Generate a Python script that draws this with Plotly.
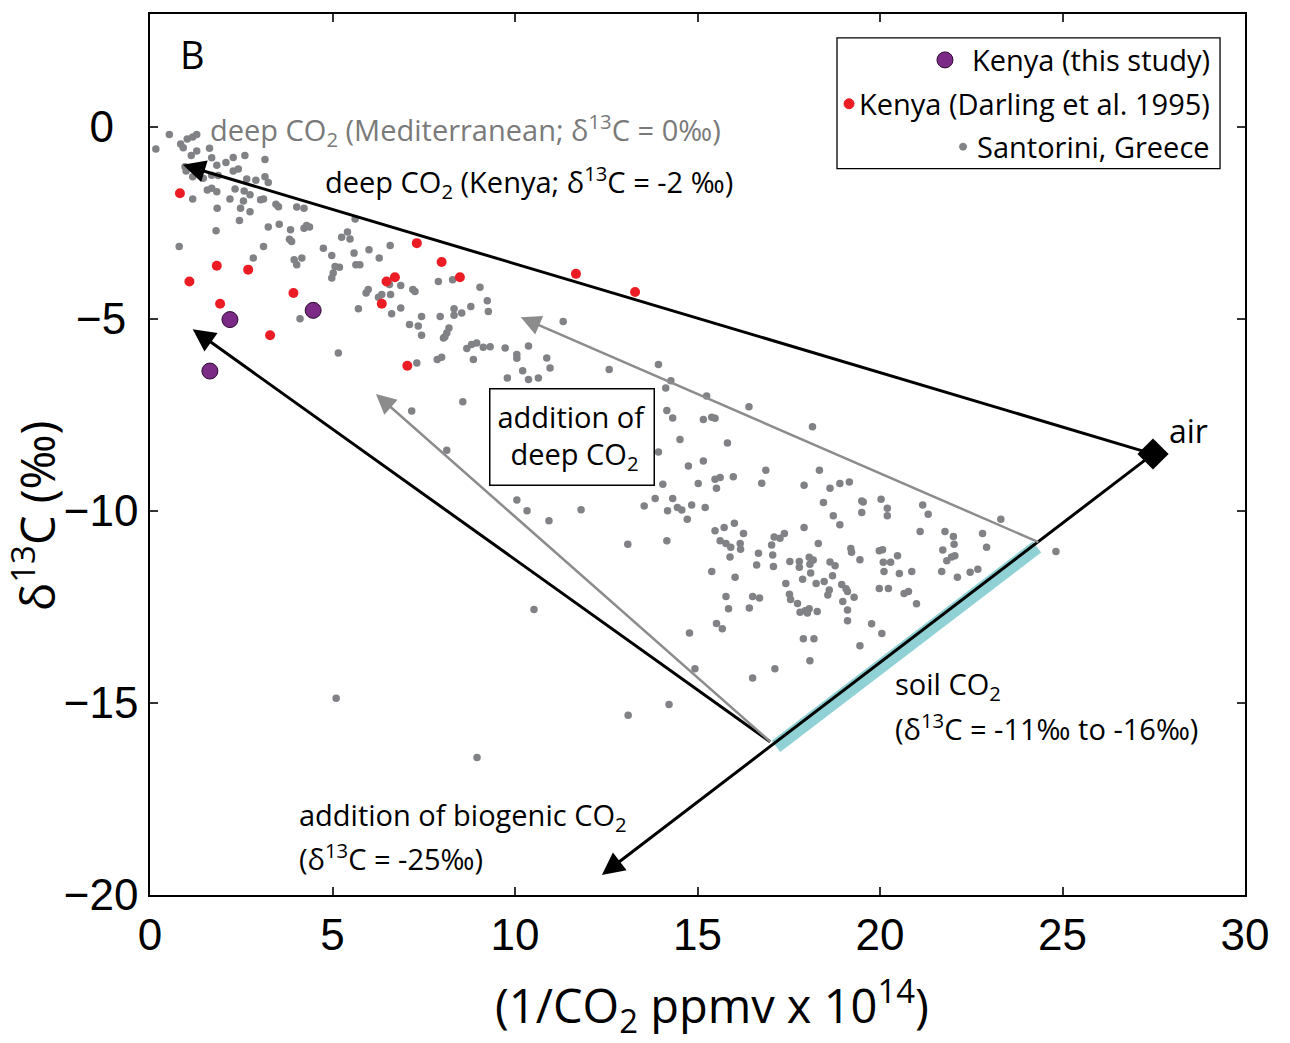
import plotly.graph_objects as go

# ---------------- data ----------------
santorini_x = [
    0.53, 0.16, 0.84, 0.91, 1.02, 1.17, 1.28, 1.13, 1.28, 1.63, 1.69, 1.83, 2.08, 2.28, 2.60, 3.15,
    0.96, 0.99, 1.17, 1.46, 1.69, 1.87, 1.69, 1.83, 1.57, 2.28, 2.42, 2.65, 2.90, 3.15, 3.24, 2.33,
    2.58, 2.74, 2.19, 2.56, 2.48, 2.74, 3.11, 3.03, 3.45, 3.52, 4.02, 4.22, 2.45, 3.24, 3.54, 3.85,
    4.22, 4.29, 4.37, 1.17, 1.84, 1.81, 0.80, 3.11, 3.82, 3.88, 2.83, 3.95, 4.02, 4.16, 4.75, 4.98,
    5.25, 5.41, 5.48, 5.59, 5.64, 5.75, 6.00, 6.28, 6.58, 5.07, 5.02, 4.98, 5.19, 5.62, 5.92, 5.98,
    6.26, 6.35, 6.56, 6.59, 6.87, 7.20, 7.26, 7.90, 8.29, 9.04, 9.24, 9.27, 8.79, 8.33, 8.54, 8.33,
    7.95, 7.44, 7.11, 7.35, 7.44, 8.04, 8.13, 8.19, 8.08, 6.62, 6.87, 5.71, 4.11, 5.16, 8.68, 8.81,
    8.95, 9.13, 9.32, 9.73, 10.05, 10.05, 10.37, 10.87, 7.87, 7.99, 7.31, 8.86, 10.21, 10.37, 9.79, 10.64,
    10.96, 8.57, 7.17,
    11.32, 12.58, 13.93, 14.13, 14.27, 15.25, 8.13, 10.05,
    10.33, 10.93, 11.81, 10.52, 5.10, 8.96,
    16.41, 14.16, 14.32, 15.16, 15.39, 15.48, 18.15, 14.52, 15.82, 13.93, 15.16, 14.75, 16.87, 18.34,
    15.48, 15.62, 15.98, 14.05, 15.02, 15.52, 16.76, 17.92, 18.63, 18.90, 19.16, 13.84, 14.32, 13.54,
    14.18, 14.45, 14.57, 14.84, 15.21, 14.72, 18.45, 18.72, 18.90, 19.50, 19.54, 19.50, 20.03, 20.20,
    20.20, 21.17, 21.32, 23.31, 21.10, 21.78, 22.01, 22.03, 22.81, 22.92, 13.09, 14.16, 15.48, 15.73,
    16.01, 16.26, 15.62, 15.78, 15.91, 16.17, 16.18, 15.89, 16.67, 16.62, 15.39, 16.03, 17.10, 17.26,
    17.38, 17.03, 17.06, 17.08, 17.53, 17.79, 17.79, 17.92, 18.06, 18.08, 18.17, 18.10, 18.31, 17.88,
    17.42, 18.25, 18.47, 18.63, 18.77, 18.70, 18.95, 19.07, 19.11, 18.61, 18.57, 18.98, 19.29, 19.11,
    19.11, 19.20, 19.22, 19.45, 19.98, 20.07, 20.09, 20.29, 20.48, 20.11, 20.53, 20.87, 19.98, 20.23,
    20.66, 20.78, 21.00, 21.72, 21.83, 21.96, 22.05, 21.69, 22.12, 22.47, 22.68, 15.78, 15.85, 16.42,
    16.51, 16.70, 17.52, 17.55, 17.74, 17.81, 17.95, 18.06, 18.01, 18.28, 15.52, 15.68, 14.78, 17.90,
    18.19, 19.77, 20.05, 19.45, 18.08, 14.93, 17.12, 16.51,
    24.82, 13.10, 14.22,
]
santorini_y = [
    -0.20, -0.58, -0.45, -0.55, -0.32, -0.27, -0.20, -0.75, -0.63, -0.56, -0.81, -1.00, -0.93, -0.80, -0.75, -0.85,
    -1.04, -1.15, -1.30, -1.34, -1.26, -1.27, -1.60, -1.69, -1.65, -1.15, -1.10, -1.36, -1.39, -1.30, -1.45, -1.62,
    -1.67, -1.77, -1.88, -1.93, -2.12, -2.21, -1.88, -1.90, -2.02, -2.08, -2.09, -2.12, -2.44, -2.61, -2.54, -2.68,
    -2.64, -2.57, -2.61, -1.88, -2.12, -2.71, -3.12, -3.12, -2.93, -2.99, -3.42, -3.46, -3.59, -3.42, -3.16, -3.35,
    -2.88, -2.74, -2.92, -3.29, -3.59, -3.59, -3.20, -3.42, -3.09, -3.64, -3.81, -3.94, -3.66, -2.40, -4.33, -4.24,
    -4.44, -4.37, -4.11, -4.37, -4.13, -4.24, -4.29, -4.03, -3.98, -4.18, -4.53, -4.81, -4.68, -4.74, -4.85, -4.91,
    -4.94, -4.94, -5.15, -5.19, -5.43, -5.50, -5.37, -5.24, -5.47, -4.87, -4.72, -4.74, -5.00, -5.89, -5.77, -5.67,
    -5.63, -5.74, -5.73, -5.76, -5.93, -6.03, -5.71, -6.02, -6.06, -6.00, -6.15, -6.06, -6.35, -6.58, -6.54, -6.54,
    -6.28, -7.16, -7.40,
    -5.07, -6.32, -6.19, -6.80, -6.61, -7.01, -8.42, -9.72,
    -10.00, -10.26, -9.97, -12.57, -14.88, -16.42,
    -7.29, -7.39, -7.58, -7.62, -7.56, -7.59, -7.81, -8.14, -8.23, -8.47, -8.70, -8.83, -8.94, -8.94,
    -9.18, -9.13, -9.11, -9.31, -9.29, -9.41, -9.28, -9.33, -9.41, -9.29, -9.25, -9.68, -9.68, -9.87,
    -10.00, -9.91, -9.98, -9.85, -9.91, -10.22, -9.78, -10.13, -10.36, -9.74, -9.77, -10.04, -9.70, -9.93,
    -10.13, -9.85, -10.09, -10.22, -10.54, -10.54, -10.67, -10.87, -10.59, -10.95, -10.87, -10.78, -10.52, -10.43,
    -10.32, -10.59, -10.78, -10.85, -10.95, -10.85, -11.00, -11.20, -11.10, -11.41, -11.58, -11.73, -10.68, -10.71,
    -10.59, -10.89, -11.15, -11.45, -11.32, -11.32, -11.47, -10.43, -11.21, -11.39, -11.28, -11.62, -10.85, -11.78,
    -11.89, -11.89, -11.84, -11.33, -11.43, -11.69, -11.92, -12.03, -12.10, -12.06, -12.19, -12.36, -12.25, -12.58,
    -12.86, -10.98, -11.08, -11.27, -11.04, -11.01, -11.34, -11.34, -11.17, -11.58, -11.63, -11.58, -12.02, -12.02,
    -12.15, -12.10, -12.42, -11.02, -11.30, -11.20, -11.17, -11.58, -11.73, -11.60, -11.52, -12.23, -12.55, -12.53,
    -12.23, -12.27, -12.17, -12.31, -12.41, -12.64, -12.60, -12.55, -12.66, -12.62, -12.93, -13.07, -13.18, -13.33,
    -13.33, -12.94, -13.19, -13.51, -13.90, -14.11, -14.11, -14.35,
    -11.06, -15.32, -15.04,
]

darling_x = [0.82, 1.08, 1.83, 1.92, 2.69, 3.29, 3.93, 6.48, 6.71, 6.35, 7.31, 7.99, 8.49, 7.05, 11.67, 13.29]
darling_y = [-1.73, -4.03, -3.62, -4.61, -3.72, -5.43, -4.33, -4.03, -3.92, -4.61, -3.03, -3.52, -3.92, -6.22, -3.83, -4.30]

kenya_x = [2.19, 4.47, 1.64]
kenya_y = [-5.02, -4.78, -6.36]

# end-members / mixing-line geometry (data units)
air_x, air_y = [27.48], [-8.52]
soil_low = (17.03, -16.04)
soil_high = (24.38, -10.83)
deep_kenya_tip = (0.90, -0.99)
biogenic_tip = (12.38, -19.48)
deep_from_soil_tip = (1.17, -5.27)
grey_tip_low = (6.19, -6.96)
grey_tip_high = (10.16, -4.96)
soil_band_x = [17.15, 24.30]
soil_band_y = [-16.13, -10.94]

x_ticks = [0, 5, 10, 15, 20, 25, 30]
y_ticks = [-20, -15, -10, -5, 0]
# labels are centred in the reference; pad the short ones with figure / punctuation spaces
y_ticktext = ["\u221220", "\u221215", "\u221210", "\u22125\u2008", "0\u2007"]

GREY = "#808285"
RED = "#ec1c24"
PURPLE = "#7b2a86"
CYAN = "#8fd1d5"
ARROW_GREY = "#8c8c8c"
TXT = "Open Sans"
NUM = "Liberation Sans"
FS = 29

fig = go.Figure()

fig.add_trace(go.Scatter(x=soil_band_x, y=soil_band_y, mode="lines",
                         line=dict(color=CYAN, width=14), hoverinfo="skip"))
fig.add_trace(go.Scatter(x=santorini_x, y=santorini_y, mode="markers", name="Santorini, Greece",
                         marker=dict(color=GREY, size=7.5)))
fig.add_trace(go.Scatter(x=darling_x, y=darling_y, mode="markers", name="Kenya (Darling et al. 1995)",
                         marker=dict(color=RED, size=10)))
fig.add_trace(go.Scatter(x=kenya_x, y=kenya_y, mode="markers", name="Kenya (this study)",
                         marker=dict(color=PURPLE, size=16, line=dict(color="#2a0a2e", width=1))))
fig.add_trace(go.Scatter(x=air_x, y=air_y, mode="markers", name="air",
                         marker=dict(color="black", symbol="diamond", size=24)))


def arrow(tip, tail, color, width, size):
    return dict(x=tip[0], y=tip[1], ax=tail[0], ay=tail[1], xref="x", yref="y",
                axref="x", ayref="y", showarrow=True, arrowhead=2, arrowsize=size,
                arrowwidth=width, arrowcolor=color, text="", standoff=0, startstandoff=0)


annotations = [
    arrow(deep_kenya_tip, (air_x[0], air_y[0]), "black", 3, 1.5),
    arrow(biogenic_tip, (air_x[0], air_y[0]), "black", 3, 1.5),
    arrow(deep_from_soil_tip, soil_low, "black", 3, 1.5),
    arrow(grey_tip_low, soil_low, ARROW_GREY, 2.5, 1.6),
    arrow(grey_tip_high, soil_high, ARROW_GREY, 2.5, 1.6),
]


def label(x, y, text, color="black", size=FS, xanchor="left", family=TXT, **kw):
    d = dict(x=x, y=y, xref="x", yref="y", text=text, showarrow=False, xanchor=xanchor,
             yanchor="middle", font=dict(family=family, size=size, color=color))
    d.update(kw)
    return d


annotations += [
    label(1.59, -0.08, "deep CO<sub>2</sub> (Mediterranean; δ<sup>13</sup>C = 0‰)", color="#7a7a7a"),
    label(4.74, -1.45, "deep CO<sub>2</sub> (Kenya; δ<sup>13</sup>C = -2 ‰)"),
    label(11.56, -8.08, "addition of<br> deep CO<sub>2</sub>", xanchor="center", align="center",
          bordercolor="black", borderwidth=1.5, borderpad=7, bgcolor="white"),
    label(27.86, -7.92, "air", size=32),
    label(20.36, -14.55, "soil CO<sub>2</sub>"),
    label(20.36, -15.62, "(δ<sup>13</sup>C = -11‰ to -16‰)"),
    label(4.03, -17.95, "addition of biogenic CO<sub>2</sub>"),
    label(4.03, -19.0, "(δ<sup>13</sup>C = -25‰)"),
    dict(x=0.0256, y=0.955, xref="paper", yref="paper", text="B", showarrow=False,
         xanchor="left", yanchor="middle", font=dict(family=TXT, size=38, color="black")),
    # axis titles
    dict(x=0.5132, y=-0.125, xref="paper", yref="paper", showarrow=False,
         text="(1/CO<sub>2</sub> ppmv x 10<sup>14</sup>)", xanchor="center", yanchor="middle",
         font=dict(family=TXT, size=47, color="black")),
    dict(x=-0.105, y=0.4303, xref="paper", yref="paper", showarrow=False, textangle=-90,
         text="δ<sup>13</sup>C (‰)", xanchor="center", yanchor="middle",
         font=dict(family=TXT, size=47, color="black")),
]

# manual legend (right-aligned text as in the reference)
legend_names = ["Kenya (this study)", "Kenya (Darling et al. 1995)", "Santorini, Greece"]
legend_y = [0.9479, 0.8981, 0.8494]
legend_marker_x = [0.7260, 0.6384, 0.7425]
legend_marker_px = [8, 5, 3.5]
legend_colors = [PURPLE, RED, GREY]

shapes = [dict(type="rect", xref="paper", yref="paper", x0=0.6274, x1=0.9772, y0=0.8245, y1=0.9728,
               line=dict(color="black", width=1.3), fillcolor="white", layer="above")]
for name, ly, mx, r, c in zip(legend_names, legend_y, legend_marker_x, legend_marker_px, legend_colors):
    annotations.append(dict(x=0.9699, y=ly, xref="paper", yref="paper", text=name, showarrow=False,
                            xanchor="right", yanchor="middle",
                            font=dict(family=TXT, size=FS, color="black")))
    shapes.append(dict(type="circle", xref="paper", yref="paper", xsizemode="pixel", ysizemode="pixel",
                       xanchor=mx, yanchor=ly, x0=-r, x1=r, y0=-r, y1=r, fillcolor=c,
                       line=dict(color="#2a0a2e" if c == PURPLE else c, width=1), layer="above"))

axis_common = dict(showline=True, linecolor="black", linewidth=1.5, mirror="ticks", ticks="inside",
                   ticklen=8, tickwidth=1.5, tickcolor="#333333", showgrid=False, zeroline=False,
                   tickfont=dict(family=NUM, size=44, color="black"))

fig.update_layout(
    width=1290, height=1043,
    margin=dict(l=150, r=45, t=12, b=148),
    paper_bgcolor="white", plot_bgcolor="white",
    showlegend=False,
    xaxis=dict(range=[0, 30], tickvals=x_ticks, **axis_common),
    yaxis=dict(range=[-20, 2.935], tickvals=y_ticks, ticktext=y_ticktext, ticklabelstandoff=1,
               **axis_common),
    annotations=annotations,
    shapes=shapes,
)

fig.write_html("out.html", config={"displayModeBar": False},
               post_script="document.body.style.margin='0px';document.body.style.overflow='hidden';")
